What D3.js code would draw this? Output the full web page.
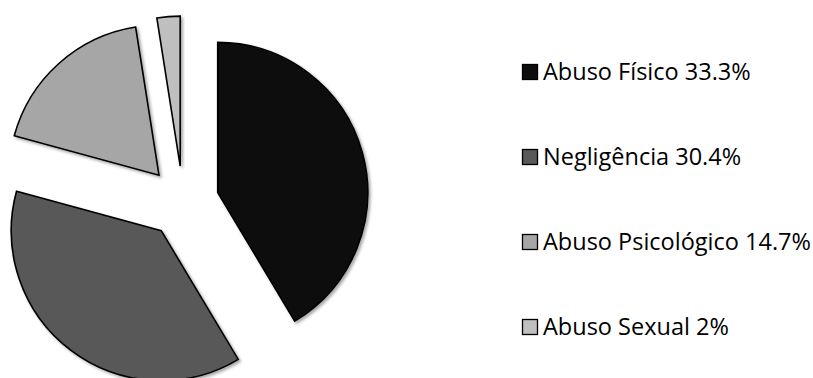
<!DOCTYPE html>
<html>
<head>
<meta charset="utf-8">
<script src="https://cdn.jsdelivr.net/npm/d3@7"></script>
<style>
  body { margin: 0; background: #fff; }
  svg { display: block; }
</style>
</head>
<body>
<svg id="chart" width="813" height="378"></svg>
<script>
// data
var categories = ["Abuso Físico", "Negligência", "Abuso Psicológico", "Abuso Sexual"];
var values = [33.3, 30.4, 14.7, 2];
var valueLabels = ["33.3%", "30.4%", "14.7%", "2%"];
var colors = ["#0d0d0d", "#595959", "#a6a6a6", "#bfbfbf"];

var svg = d3.select("#chart");

// shadow like the office chart
var defs = svg.append("defs");
var f = defs.append("filter").attr("id", "shadow")
  .attr("x", "-20%").attr("y", "-20%").attr("width", "140%").attr("height", "140%");
f.append("feDropShadow")
  .attr("dx", 2).attr("dy", 2).attr("stdDeviation", 1.8)
  .attr("flood-color", "#000").attr("flood-opacity", 0.35);

var cx = 183, cy = 202;
var radius = 150;
var explode = 36;

var pie = d3.pie().sort(null).value(function(d) { return d; });
var arc = d3.arc().innerRadius(0).outerRadius(radius);

var arcs = pie(values);

var g = svg.append("g").attr("transform", "translate(" + cx + "," + cy + ")");

g.selectAll("path")
  .data(arcs)
  .enter().append("path")
  .attr("d", arc)
  .attr("fill", function(d, i) { return colors[i]; })
  .attr("stroke", "#000")
  .attr("stroke-width", 1.6)
  .attr("stroke-linejoin", "miter")
  .attr("filter", "url(#shadow)")
  .attr("transform", function(d) {
    var a = (d.startAngle + d.endAngle) / 2;
    return "translate(" + (Math.sin(a) * explode) + "," + (-Math.cos(a) * explode) + ")";
  });

// legend
var legendY = d3.scalePoint().domain(categories).range([72, 327]);
var legend = svg.append("g");

var item = legend.selectAll("g")
  .data(categories)
  .enter().append("g")
  .attr("transform", function(d) { return "translate(0," + legendY(d) + ")"; });

item.append("rect")
  .attr("x", 522.5).attr("y", -7.5)
  .attr("width", 15).attr("height", 15)
  .attr("fill", function(d, i) { return colors[i]; })
  .attr("stroke", "#000")
  .attr("stroke-width", 1.3);

item.append("text")
  .attr("x", 543)
  .attr("y", 0)
  .attr("dy", "0.36em")
  .style("font-family", "'Open Sans', sans-serif")
  .style("font-size", "23.5px")
  .style("fill", "#000")
  .text(function(d, i) { return d + " " + valueLabels[i]; });
</script>
</body>
</html>
